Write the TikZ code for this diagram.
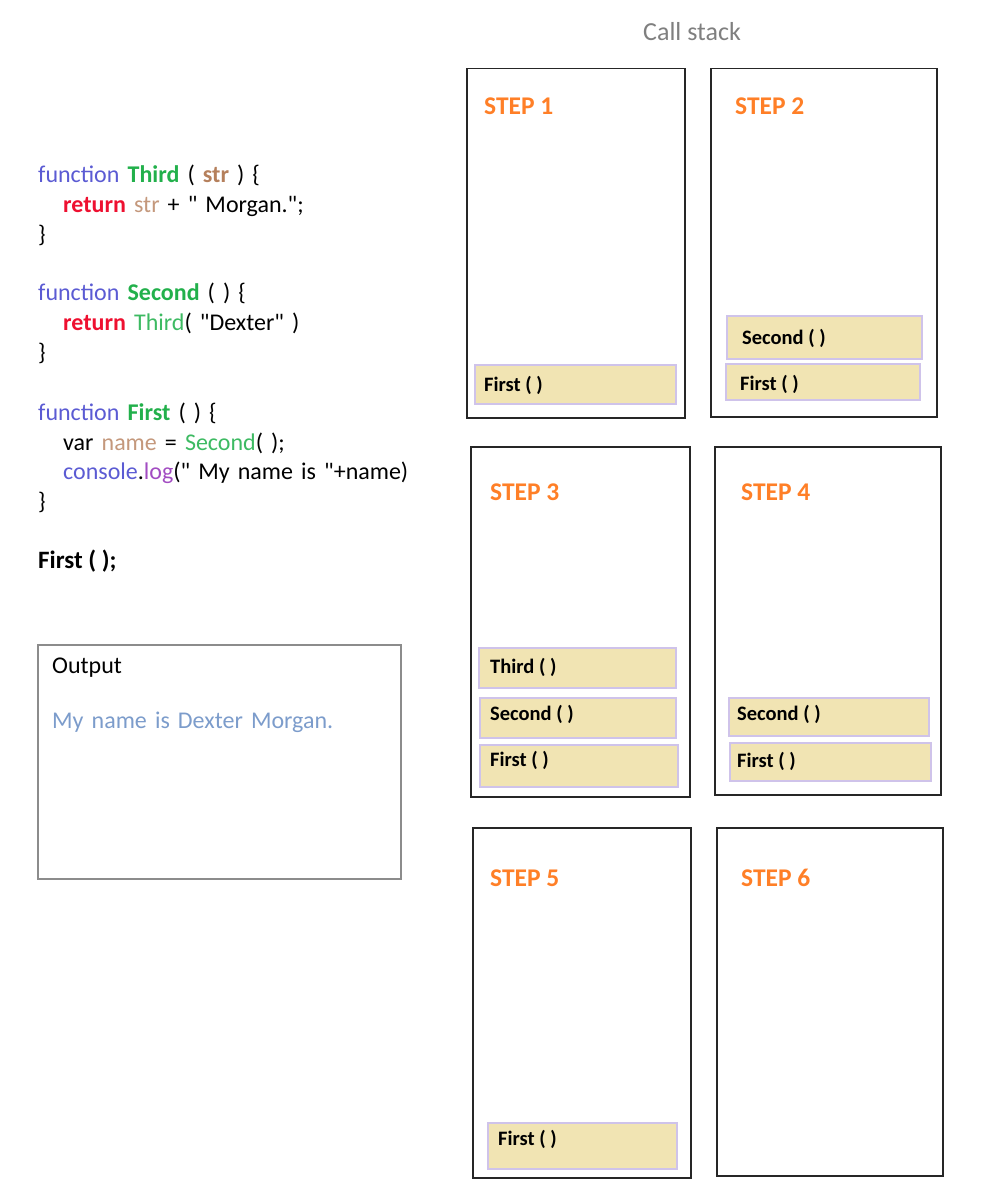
\documentclass[tikz,border=0pt]{standalone}
\usepackage{fontspec}
\setmainfont{Carlito}[Ligatures=TeXOff]
\usepackage{tikz}
\usetikzlibrary{positioning}
\newcommand\espacecode{\spaceskip 8.1pt\relax}
\definecolor{motcle}{HTML}{5B5BD3}
\definecolor{nomfn}{HTML}{22B04B}
\definecolor{nomfnclair}{HTML}{3DBA62}
\definecolor{param}{HTML}{B5805C}
\definecolor{paramclair}{HTML}{C4987C}
\definecolor{retour}{HTML}{EE1030}
\definecolor{methode}{HTML}{A24CC2}
\definecolor{sortietxt}{HTML}{7C9CCB}
\definecolor{grisclair}{HTML}{7F7F7F}
\definecolor{grisbord}{HTML}{8C8C8C}
\definecolor{orangeetape}{HTML}{FF7F27}
\definecolor{sable}{HTML}{F1E4B3}
\definecolor{lavande}{HTML}{CFC3EA}
\definecolor{noir}{HTML}{262626}
\tikzset{
  code/.style={anchor=base west,inner sep=0pt,
               font=\fontsize{24}{29}\selectfont\espacecode},
  pile/.style={draw=noir,line width=1.5pt,anchor=north west,inner sep=0pt},
  etape/.style={anchor=base west,inner sep=0pt,text=orangeetape,
                font=\fontsize{25.5}{30}\selectfont\bfseries},
  cadre/.style={draw=lavande,fill=sable,line width=1.5pt,anchor=north west,inner sep=0pt},
  appel/.style={inner sep=0pt,font=\fontsize{20.5}{25}\selectfont\bfseries},
}

\begin{document}
\begin{tikzpicture}[x=1pt,y=-1pt]
  \useasboundingbox (0,0) rectangle (1006,1188);
  % code
  \node[code] (l1) at (38,182) {\textcolor{motcle}{function} \textcolor{nomfn}{\bfseries Third} ( \textcolor{param}{\bfseries str} ) \{};
  \node[code] (l2) at (63,212) {\textcolor{retour}{\bfseries return} \textcolor{paramclair}{str} + " Morgan.";};
  \node[code] (l3) at (38,242) {\}};
  \node[code] (l4) at (38,300) {\textcolor{motcle}{function} \textcolor{nomfn}{\bfseries Second} ( ) \{};
  \node[code] (l5) at (63,330) {\textcolor{retour}{\bfseries return} \textcolor{nomfnclair}{Third}( "Dexter" )};
  \node[code] (l6) at (38,360) {\}};
  \node[code] (l7) at (38,420) {\textcolor{motcle}{function} \textcolor{nomfn}{\bfseries First} ( ) \{};
  \node[code] (l8) at (63,450) {var \textcolor{paramclair}{name} = \textcolor{nomfnclair}{Second}( );};
  \node[code] (l9) at (63,479) {\textcolor{motcle}{console}.\textcolor{methode}{log}(" My name is "+name)};
  \node[code] (l10) at (38,509) {\}};
  \node[code,font=\fontsize{25}{30}\selectfont\bfseries] (l11) at (38,568) {First ( );};
  % sortie
  \node[pile,draw=grisbord,minimum width=363pt,minimum height=234pt] (sortie) at (37,644) {};
  \node[code] (out) at (52,673) {Output};
  \node[code,text=sortietxt] (res) at (52,728) {My name is Dexter Morgan.};
  % pile d'appels
  \node[code,text=grisclair,font=\fontsize{26}{31}\selectfont] (titre) at (643,41) {Call stack};
  \foreach \n/\x/\y/\w/\h in {1/466/68/218/349, 2/710/68/226/348, 3/470/446/219/350,
                             4/714/446/226/348, 5/472/827/218/350, 6/716/827/226/348}
    \node[pile,minimum width=\w pt,minimum height=\h pt] (s\n) at (\x,\y) {};
  \foreach \n/\x/\y in {1/484/114, 2/735/114, 3/490/500, 4/741/500, 5/490/886, 6/741/886}
    \node[etape] (e\n) at (\x,\y) {STEP \n};
  \foreach \nom/\x/\y/\w/\h/\d/\dy/\txt in {1a/474/364/201/39/10/-1/First ( ),
      2b/726/315/195/43/16/-1/Second ( ), 2a/725/363/194/36/15/-3/First ( ),
      3c/478/647/197/40/12/0/Third ( ), 3b/479/697/196/40/11/3.5/Second ( ), 3a/479/744/198/42/11/5/First ( ),
      4b/728/697/200/38/9/2.5/Second ( ), 4a/729/742/201/38/8/0.5/First ( ),
      5a/487/1122/189/46/11/6.5/First ( )}
  {
    \node[cadre,minimum width=\w pt,minimum height=\h pt] (f\nom) at (\x,\y) {};
    \node[appel,right=\d pt of f\nom.west,yshift=\dy pt] (t\nom) {\txt};
  }
\end{tikzpicture}
\end{document}
